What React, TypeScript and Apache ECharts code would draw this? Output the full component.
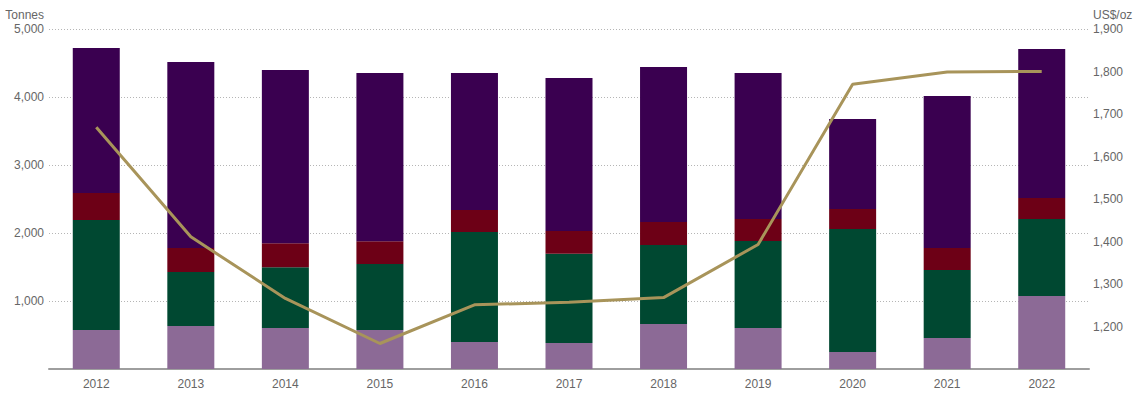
import React, { useEffect, useRef } from "react";
import * as echarts from "echarts";

const years = ["2012", "2013", "2014", "2015", "2016", "2017", "2018", "2019", "2020", "2021", "2022"];
const centralBanks = [574, 632, 603, 574, 397, 382, 662, 603, 250, 456, 1074];
const investment = [1617, 794, 892, 970, 1618, 1314, 1162, 1279, 1809, 1000, 1132];
const technology = [397, 353, 353, 334, 323, 333, 338, 324, 294, 323, 309];
const jewellery = [2133, 2736, 2549, 2475, 2015, 2250, 2279, 2147, 1323, 2236, 2191];
const goldPrice = [1669, 1411, 1266, 1160, 1251, 1257, 1268, 1393, 1770, 1799, 1800];

const FONT = 'Arial, "Liberation Sans", Helvetica, sans-serif';
const fmt = (v: number) => v.toLocaleString("en-US");

export default function App() {
  const ref = useRef<HTMLDivElement>(null);
  useEffect(() => {
    if (!ref.current) return;
    const chart = echarts.init(ref.current, undefined, { renderer: "svg" });
    const barSeries = (name: string, data: number[], color: string) => ({
      name,
      type: "bar",
      stack: "demand",
      data,
      barWidth: 47,
      itemStyle: { color },
      yAxisIndex: 0,
    });
    chart.setOption({
      animation: false,
      textStyle: { fontFamily: FONT },
      grid: { left: 49, right: 52, top: 29, bottom: 35, containLabel: false },
      xAxis: {
        type: "category",
        data: years,
        axisLine: { lineStyle: { color: "#9e9e9e", width: 2 } },
        axisTick: { show: false },
        axisLabel: { color: "#666", fontSize: 12, margin: 9, fontFamily: FONT },
      },
      yAxis: [
        {
          type: "value",
          min: 0,
          max: 5000,
          interval: 1000,
          name: "Tonnes",
          nameLocation: "end",
          nameGap: 8,
          nameTextStyle: { color: "#666", fontSize: 12, align: "right", padding: [0, 5, 0, 0], fontFamily: FONT },
          axisLine: { show: false },
          axisTick: { show: false },
          axisLabel: {
            color: "#666",
            fontSize: 12,
            margin: 5,
            showMinLabel: false,
            fontFamily: FONT,
            formatter: (v: number) => (v === 0 ? "" : fmt(v)),
          },
          splitLine: { show: true, lineStyle: { color: "#b5b5b5", type: [1, 2], width: 1 } },
        },
        {
          type: "value",
          min: 1100,
          max: 1900,
          interval: 100,
          name: "US$/oz",
          nameLocation: "end",
          nameGap: 8,
          nameTextStyle: { color: "#666", fontSize: 12, align: "left", padding: [0, 0, 0, 4], fontFamily: FONT },
          axisLine: { show: false },
          axisTick: { show: false },
          axisLabel: {
            color: "#666",
            fontSize: 12,
            margin: 4,
            showMinLabel: false,
            fontFamily: FONT,
            formatter: (v: number) => (v === 1100 ? "" : fmt(v)),
          },
          splitLine: { show: false },
        },
      ],
      series: [
        barSeries("Central banks", centralBanks, "#8c6a96"),
        barSeries("Investment", investment, "#004831"),
        barSeries("Technology", technology, "#6d0016"),
        barSeries("Jewellery", jewellery, "#3a0050"),
        {
          name: "Gold price",
          type: "line",
          yAxisIndex: 1,
          data: goldPrice,
          symbol: "none",
          lineStyle: { color: "#a8945a", width: 3 },
          itemStyle: { color: "#a8945a" },
          z: 5,
        },
      ],
    });
    return () => chart.dispose();
  }, []);
  return (
    <div
      ref={ref}
      style={{ position: "fixed", left: 0, top: 0, width: 1141, height: 404, background: "#fff" }}
    />
  );
}
